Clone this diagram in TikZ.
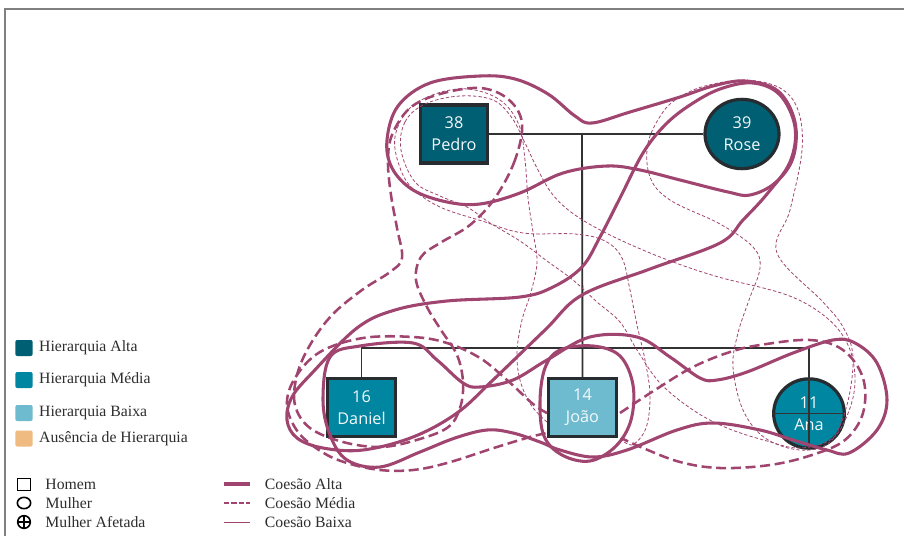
\documentclass[tikz,border=0pt]{standalone}
\usepackage{fontspec}
\setmainfont{Liberation Serif}
\newfontfamily\personfont{Open Sans}
\usetikzlibrary{positioning, shapes.geometric}
\definecolor{hialta}{RGB}{0, 95, 114}
\definecolor{himedia}{RGB}{0, 134, 160}
\definecolor{hibaixa}{RGB}{110, 186, 206}
\definecolor{hiausencia}{RGB}{240, 187, 128}
\definecolor{edgecol}{RGB}{38, 44, 48}
\definecolor{famcol}{RGB}{50, 50, 50}
\definecolor{cohcol}{RGB}{160, 68, 112}
\definecolor{legcol}{RGB}{45, 45, 45}
\definecolor{framecol}{RGB}{128, 128, 128}
\tikzset{
  person/.style={draw=edgecol, line width=2.4pt, text=white!92!hibaixa, align=center,
                 inner sep=0pt, font=\personfont\fontsize{12.2}{16.5}\selectfont},
  man/.style={person, rectangle, minimum width=51pt, minimum height=43.5pt},
  woman/.style={person, ellipse, minimum width=53pt, minimum height=52pt},
  famline/.style={draw=famcol, line width=1.4pt},
  alta/.style={draw=cohcol, line width=2.3pt},
  media/.style={draw=cohcol, line width=1.9pt, dash pattern=on 7.5pt off 3.5pt},
  baixa/.style={draw=cohcol, line width=0.6pt, dash pattern=on 2.5pt off 1.6pt},
  legbox/.style={rounded corners=1.5pt, minimum width=13pt, minimum height=12pt, inner sep=0pt},
  legtext/.style={font=\fontsize{11.8}{14}\selectfont, text=legcol, inner sep=0pt, anchor=west},
  legsym/.style={draw=black, line width=1.2pt, inner sep=0pt},
}

\begin{document}
\begin{tikzpicture}[x=0.75pt, y=-0.75pt]
  \useasboundingbox (0,0) rectangle (904,536);
  \draw[framecol, line width=1.2pt] (5,536) -- (5,9) -- (904,9);

  \node[man, fill=hialta, minimum width=50pt] (pedro) at (454,134) {38\\Pedro};
  \node[woman, fill=hialta, minimum width=55.5pt] (rose) at (742,134) {39\\Rose};
  \node[man, fill=himedia] (daniel) at (361.5,407.5) {16\\Daniel};
  \node[man, fill=hibaixa] (joao) at (582.5,407.5) {14\\João};
  \node[woman, fill=himedia] (ana) at (809,413.5) {11\\Ana};

  \coordinate (wed) at (582,134);
  \coordinate (sibL) at (361.5,348);
  \coordinate (sibR) at (809,348);
  \draw[famline] (pedro.east) -- (rose.west);
  \draw[famline] (wed) -- (joao.north);
  \draw[famline] (daniel.north) -- (sibL) -- (sibR) -- (ana.south);
  \draw[famline] (ana.west) -- (ana.east);

  \draw[alta] plot[smooth cycle, tension=0.6] coordinates {(387,140) (398,106) (430,83) (480,76) (515,79) (548,94) (575,116) (592,123) (630,112) (680,97) (713,86) (745,81) (778,91) (795,122) (793,158) (775,183) (750,195) (728,192) (680,180) (640,170) (607,166) (563,173) (520,193) (480,204) (447,202) (413,190) (392,168)};
  \draw[alta] plot[smooth cycle, tension=0.6] coordinates {(720,243) (650,269) (582,295) (545,330) (493,380) (457,413) (413,437) (363,450) (323,448) (297,438) (287,420) (292,397) (313,372) (357,328) (395,310) (447,301) (520,297) (553,287) (582,267) (600,237) (620,198) (643,153) (665,125) (690,105) (720,89) (753,83) (780,95) (795,127) (790,162) (767,194) (743,220)};
  \draw[alta] plot[smooth cycle, tension=0.6] coordinates {(330,357) (360,346) (413,343) (437,360) (463,383) (480,387) (513,380) (547,360) (590,337) (637,337) (670,357) (700,378) (717,380) (747,372) (793,353) (833,340) (855,343) (877,363) (887,400) (877,430) (849,453) (827,450) (793,440) (760,430) (713,423) (677,430) (627,450) (593,457) (560,450) (540,442) (513,433) (487,430) (455,438) (420,452) (380,467) (347,460) (330,435) (323,400)};
  \draw[alta] plot[smooth cycle, tension=0.6] coordinates {(560,350) (593,346) (620,356) (633,385) (631,420) (616,446) (590,461) (562,455) (544,436) (540,402) (545,368)};

  \draw[media] plot[smooth cycle, tension=0.6] coordinates {(522,123) (515,160) (495,198) (470,225) (440,243) (421,257) (416,280) (427,307) (441,330) (457,355) (463,382) (460,408) (447,428) (413,441) (380,447) (343,442) (310,428) (295,405) (297,375) (310,345) (332,315) (362,290) (390,272) (402,258) (397,228) (391,195) (388,162) (392,135) (410,108) (440,94) (480,88) (508,99)};
  \draw[media] plot[smooth, tension=0.6] coordinates {(547,413) (533,404) (507,380) (480,358) (447,343) (413,337) (363,338) (320,352) (295,378) (287,405) (298,432) (322,452) (347,463) (380,470) (413,470) (447,463) (497,447) (530,437) (547,433)};
  \draw[media] plot[smooth, tension=0.6] coordinates {(620,413) (655,390) (693,367) (730,352) (760,345) (810,340) (843,350) (863,378) (863,413) (845,440) (812,455) (770,465) (720,468) (680,462) (643,448) (621,438)};

  \draw[baixa] plot[smooth, tension=0.6] coordinates {(547,422) (531,405) (520,380) (517,352) (522,320) (531,292) (537,262) (533,232) (528,198) (525,160) (519,125) (500,100) (468,89) (435,94) (408,110) (395,137) (399,165) (412,188) (440,207) (482,221) (523,233) (575,234) (605,241) (622,258) (630,290) (637,325) (645,360) (650,395) (646,428) (632,445) (620,438)};
  \draw[baixa] plot[smooth cycle, tension=0.6] coordinates {(401,150) (405,122) (425,104) (460,96) (493,100) (512,118) (525,143) (538,170) (553,195) (575,215) (610,235) (660,257) (715,276) (787,295) (827,318) (848,345) (855,377) (850,408) (833,438) (800,448) (767,441) (727,428) (693,410) (660,383) (637,350) (620,322) (597,302) (573,280) (547,261) (520,241) (490,223) (467,207) (440,196) (415,182)};
  \draw[baixa] plot[smooth cycle, tension=0.6] coordinates {(705,86) (680,97) (663,112) (648,143) (650,177) (670,200) (720,224) (753,247) (760,268) (749,300) (738,333) (733,367) (743,410) (765,438) (800,450) (830,442) (847,405) (853,357) (843,327) (823,302) (777,253) (790,210) (802,150) (798,110) (780,88) (745,80)};

  \node[legbox, fill=hialta] (lgAlta) at (24,348) {};
  \node[legbox, fill=himedia] (lgMedia) at (24,380) {};
  \node[legbox, fill=hibaixa] (lgBaixa) at (24,413) {};
  \node[legbox, fill=hiausencia] (lgAusencia) at (24,438.5) {};
  \node[legtext, right=4.5pt of lgAlta] {Hierarquia Alta};
  \node[legtext, right=4.5pt of lgMedia] {Hierarquia Média};
  \node[legtext, right=4.5pt of lgBaixa] {Hierarquia Baixa};
  \node[legtext, right=4.5pt of lgAusencia] {Ausência de Hierarquia};

  \node[legsym, rectangle, minimum width=9.5pt, minimum height=9pt] (lgHomem) at (24,484.5) {};
  \node[legsym, ellipse, minimum width=10pt, minimum height=8.5pt] (lgMulher) at (24,503) {};
  \node[legsym, circle, minimum size=9.5pt] (lgAfetada) at (24,522) {};
  \draw[black, line width=1.2pt] (lgAfetada.north) -- (lgAfetada.south);
  \draw[black, line width=1.2pt] (lgAfetada.west) -- (lgAfetada.east);
  \node[legtext, right=10.5pt of lgHomem] {Homem};
  \node[legtext, right=10.5pt of lgMulher] {Mulher};
  \node[legtext, right=10.5pt of lgAfetada] {Mulher Afetada};

  \coordinate (ca1) at (224,484); \coordinate (ca2) at (250,484);
  \coordinate (cm1) at (224,503); \coordinate (cm2) at (250,503);
  \coordinate (cb1) at (224,522); \coordinate (cb2) at (250,522);
  \draw[alta] (ca1) -- (ca2);
  \draw[media, dash pattern=on 4pt off 1.5pt] (cm1) -- (cm2);
  \draw[baixa, dash pattern=] (cb1) -- (cb2);
  \node[legtext, right=11pt of ca2] {Coesão Alta};
  \node[legtext, right=11pt of cm2] {Coesão Média};
  \node[legtext, right=11pt of cb2] {Coesão Baixa};
\end{tikzpicture}
\end{document}
